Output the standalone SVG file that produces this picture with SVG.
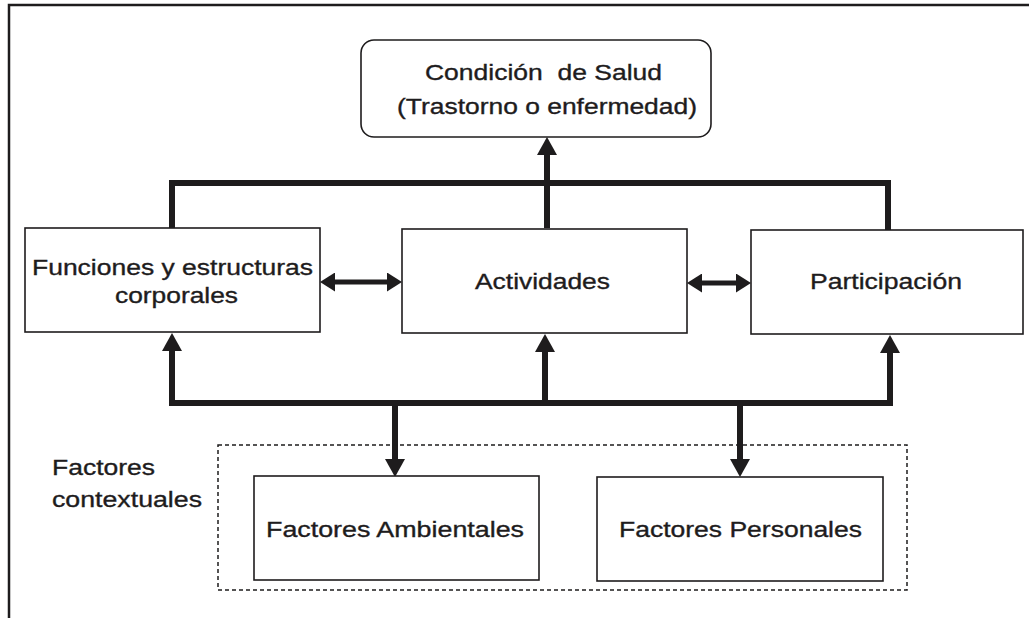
<svg xmlns="http://www.w3.org/2000/svg" width="1029" height="618" viewBox="0 0 1029 618">
<style>
.box{fill:#fff;stroke:#1e1c1d;stroke-width:1.6}
.t{font-family:"Liberation Sans",Arial,sans-serif;font-size:22px;fill:#1e1c1d;stroke:#1e1c1d;stroke-width:0.35;white-space:pre}
.c{stroke:#1e1c1d;stroke-width:6;fill:none}
.dbl{stroke:#1e1c1d;stroke-width:5;fill:none}
</style>
<defs>
<marker id="ah" viewBox="0 0 18 20" refX="0" refY="10" markerWidth="18" markerHeight="20" markerUnits="userSpaceOnUse" orient="auto-start-reverse">
<path d="M0,0 L18,10 L0,20 Z" fill="#1e1c1d"/>
</marker>
<marker id="ahs" viewBox="0 0 15 19" refX="0" refY="9.5" markerWidth="15" markerHeight="19" markerUnits="userSpaceOnUse" orient="auto-start-reverse">
<path d="M0,0 L15,9.5 L0,19 Z" fill="#1e1c1d"/>
</marker>
</defs>
<rect width="1029" height="618" fill="#fff"/>
<path d="M9,618 V5 H1029" fill="none" stroke="#1e1c1d" stroke-width="2.5"/>

<g id="connectors">
<path class="c" d="M172,228 V183 H888 V230"/>
<path class="c" d="M547,228 V155" marker-end="url(#ah)"/>
<path class="c" d="M172,351 V403 H890 V353" marker-start="url(#ah)" marker-end="url(#ah)"/>
<path class="c" d="M545,403 V352" marker-end="url(#ah)"/>
<path class="c" d="M395,403 V459" marker-end="url(#ah)"/>
<path class="c" d="M740,403 V459" marker-end="url(#ah)"/>
<path class="dbl" d="M335,282 H387" marker-start="url(#ahs)" marker-end="url(#ahs)"/>
<path class="dbl" d="M702,283 H736" marker-start="url(#ahs)" marker-end="url(#ahs)"/>
</g>

<g id="salud">
<rect class="box" x="361" y="40" width="350" height="97" rx="13"/>
<text class="t" x="425" y="80" textLength="237" lengthAdjust="spacingAndGlyphs">Condición  de Salud</text>
<text class="t" x="397" y="114" textLength="300" lengthAdjust="spacingAndGlyphs">(Trastorno o enfermedad)</text>
</g>

<g id="funciones">
<rect class="box" x="25" y="228" width="295" height="104"/>
<text class="t" x="32" y="275" textLength="281" lengthAdjust="spacingAndGlyphs">Funciones y estructuras</text>
<text class="t" x="115" y="303" textLength="123" lengthAdjust="spacingAndGlyphs">corporales</text>
</g>

<g id="actividades">
<rect class="box" x="402" y="229" width="285" height="104"/>
<text class="t" x="475" y="289" textLength="135" lengthAdjust="spacingAndGlyphs">Actividades</text>
</g>

<g id="participacion">
<rect class="box" x="751" y="230" width="272" height="104"/>
<text class="t" x="810" y="289" textLength="152" lengthAdjust="spacingAndGlyphs">Participación</text>
</g>

<g id="contextuales">
<rect x="218" y="445" width="689" height="145" fill="none" stroke="#1e1c1d" stroke-width="1.5" stroke-dasharray="4 3"/>
<text class="t" x="52" y="475" textLength="103" lengthAdjust="spacingAndGlyphs">Factores</text>
<text class="t" x="52" y="507" textLength="150" lengthAdjust="spacingAndGlyphs">contextuales</text>
</g>

<g id="ambientales">
<rect class="box" x="254" y="476" width="285" height="104"/>
<text class="t" x="266" y="537" textLength="258" lengthAdjust="spacingAndGlyphs">Factores Ambientales</text>
</g>

<g id="personales">
<rect class="box" x="597" y="477" width="286" height="104"/>
<text class="t" x="619" y="537" textLength="243" lengthAdjust="spacingAndGlyphs">Factores Personales</text>
</g>
</svg>
